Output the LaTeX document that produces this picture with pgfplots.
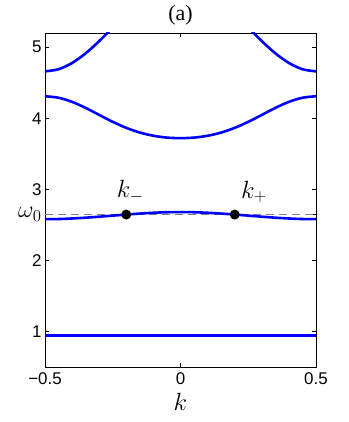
\RequirePackage{fix-cm}
\documentclass[border=0pt]{standalone}
\usepackage{pgfplots}
\pgfplotsset{compat=1.18}
\usepackage{fontspec}
\setmainfont{Liberation Sans}
\newfontfamily\timesfont{Liberation Serif}

\begin{document}
\begin{tikzpicture}
\begin{axis}[
  scale only axis,
  width=271bp, height=334bp,
  xmin=-0.5, xmax=0.5, ymin=0.5, ymax=5.2,
  xtick={-0.5,0,0.5}, xticklabels={−0.5,0,0.5},
  ytick={1,2,3,4,5},
  extra y ticks={2.645}, extra y tick labels={$\omega_0$},
  extra y tick style={tick label style={font=\fontsize{24}{26}\selectfont}},
  tick align=inside,
  tick style={black, line width=0.6bp},
  major tick length=4bp,
  axis line style={line width=0.8bp},
  ticklabel style={font=\fontsize{17}{19}\selectfont},
  xticklabel style={yshift=-2bp},
  /pgf/number format/assume math mode=true,
  xlabel={$k$}, xlabel style={font=\fontsize{25}{27}\selectfont, yshift=-2bp},
  title={\timesfont (a)}, title style={font=\fontsize{22}{24}\selectfont, yshift=-2bp},
  every axis plot/.append style={line width=2.6bp},
]
% dashed omega_0 level
\addplot[gray, line width=1.2bp, dash pattern=on 8bp off 5bp] coordinates {(-0.5,2.645) (0.5,2.645)};
% band 1
\addplot[blue] coordinates {(-0.5,0.94) (0.5,0.94)};
% band 2
\addplot[blue, smooth] coordinates {
  (-0.5,2.580) (-0.45,2.582) (-0.4,2.590) (-0.35,2.601) (-0.3,2.615) (-0.25,2.630)
  (-0.2,2.645) (-0.15,2.659) (-0.1,2.670) (-0.05,2.678) (0,2.680)
  (0.05,2.678) (0.1,2.670) (0.15,2.659) (0.2,2.645) (0.25,2.630)
  (0.3,2.615) (0.35,2.601) (0.4,2.590) (0.45,2.582) (0.5,2.580)};
% band 3
\addplot[blue, smooth] coordinates {
  (-0.5,4.310) (-0.45,4.289) (-0.4,4.231) (-0.35,4.146) (-0.3,4.047) (-0.25,3.950)
  (-0.2,3.865) (-0.15,3.799) (-0.1,3.754) (-0.05,3.728) (0,3.720)
  (0.05,3.728) (0.1,3.754) (0.15,3.799) (0.2,3.865) (0.25,3.950)
  (0.3,4.047) (0.35,4.146) (0.4,4.231) (0.45,4.289) (0.5,4.310)};
% band 4 (left and right branches)
\addplot[blue, smooth] coordinates {
  (-0.5,4.660) (-0.45,4.690) (-0.4,4.778) (-0.35,4.914) (-0.3,5.086) (-0.25,5.277) (-0.2,5.468)};
\addplot[blue, smooth] coordinates {
  (0.2,5.468) (0.25,5.277) (0.3,5.086) (0.35,4.914) (0.4,4.778) (0.45,4.690) (0.5,4.660)};
% crossing points
\addplot[only marks, mark=*, mark size=3.6bp, black] coordinates {(-0.2,2.645) (0.2,2.645)};
\node[font=\fontsize{25}{27}\selectfont, anchor=south] at (axis cs:-0.2,2.645) [yshift=8bp, xshift=4bp] {$k_-$};
\node[font=\fontsize{25}{27}\selectfont, anchor=south west] at (axis cs:0.2,2.645) [yshift=8bp, xshift=3bp] {$k_+$};
\coordinate (sw) at (rel axis cs:0,0);
\coordinate (ne) at (rel axis cs:1,1);
\end{axis}
\pgfresetboundingbox
\useasboundingbox ([shift={(-45bp,-55bp)}]sw) rectangle ([shift={(33bp,33bp)}]ne);
\end{tikzpicture}
\end{document}
